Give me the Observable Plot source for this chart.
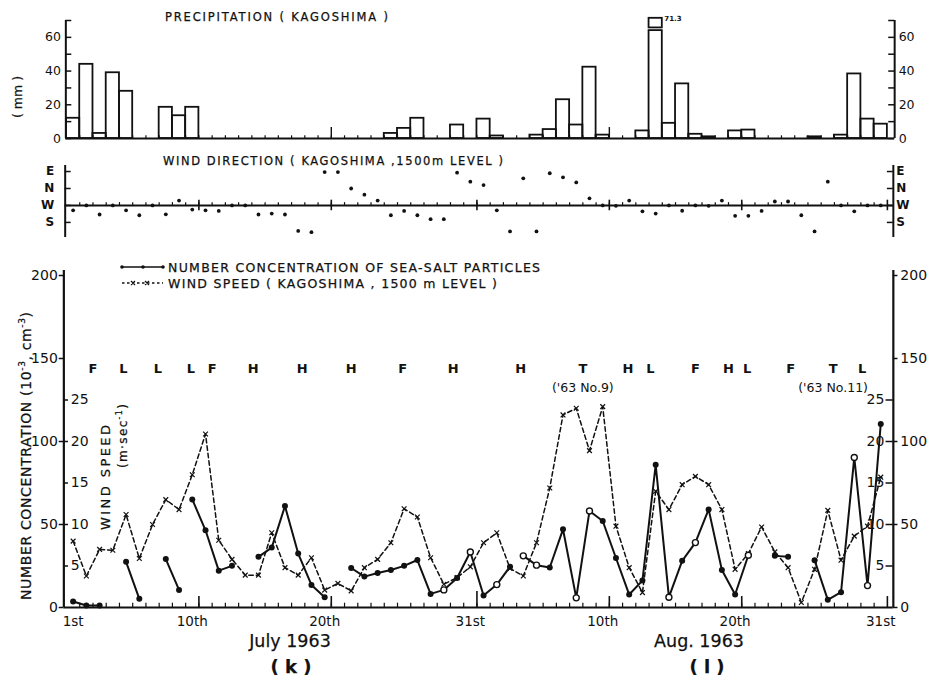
<!DOCTYPE html>
<html>
<head>
<meta charset="utf-8">
<script src="https://cdn.jsdelivr.net/npm/d3@7"></script>
<script src="https://cdn.jsdelivr.net/npm/@observablehq/plot@0.6"></script>
<style>
  html, body { margin: 0; padding: 0; background: #fff; }
  #fig { position: relative; width: 932px; height: 679px; overflow: hidden; background: #fff;
         font-family: "DejaVu Sans", "Liberation Sans", sans-serif; color: #111; }
  #fig > div.panel { position: absolute; left: 0; }
  #labels { position: absolute; left: 0; top: 0; pointer-events: none; }
  #labels text { stroke: #111; stroke-width: 0.25; }
</style>
</head>
<body>
<div id="fig">
  <div class="panel" id="precip" style="top:0px"></div>
  <div class="panel" id="winddir" style="top:150px"></div>
  <div class="panel" id="series" style="top:260px"></div>
  <svg id="labels" width="932" height="679" font-family="DejaVu Sans, Liberation Sans, sans-serif" fill="#111">
    <!-- panel titles -->
    <text x="165" y="21" font-size="11.5" textLength="223" lengthAdjust="spacing">PRECIPITATION  ( KAGOSHIMA )</text>
    <text transform="translate(22,97) rotate(-90)" text-anchor="middle" font-size="12.5">( mm )</text>
    <text x="163" y="165" font-size="11.5" textLength="340" lengthAdjust="spacing">WIND DIRECTION ( KAGOSHIMA ,1500m  LEVEL )</text>

    <!-- key -->
    <line x1="122" y1="267" x2="163" y2="267" stroke="#111" stroke-width="1.6"/>
    <circle cx="122" cy="267" r="1.8"/><circle cx="143" cy="267" r="1.8"/><circle cx="163" cy="267" r="1.8"/>
    <text x="168" y="271.5" font-size="12.5" textLength="372" lengthAdjust="spacing">NUMBER  CONCENTRATION OF SEA-SALT PARTICLES</text>
    <line x1="122" y1="283" x2="163" y2="283" stroke="#111" stroke-width="1.3" stroke-dasharray="2.5,2.5"/>
    <path d="M131,281 l4,4 m0,-4 l-4,4 M145,281 l4,4 m0,-4 l-4,4" stroke="#111" stroke-width="1.2" fill="none"/>
    <text x="168" y="288" font-size="12.5" textLength="329" lengthAdjust="spacing">WIND  SPEED ( KAGOSHIMA , 1500 m   LEVEL )</text>

    <!-- axis titles of the lower panel -->
    <text transform="translate(31,600) rotate(-90)" font-size="14" textLength="288" lengthAdjust="spacing">NUMBER  CONCENTRATION  (10<tspan font-size="9" dy="-6">-3</tspan><tspan dy="6">, cm</tspan><tspan font-size="9" dy="-6">-3</tspan><tspan dy="6">)</tspan></text>
    <text transform="translate(110,530) rotate(-90)" font-size="13" textLength="105" lengthAdjust="spacing">WIND   SPEED</text>
    <text transform="translate(127,468) rotate(-90)" font-size="12" textLength="64" lengthAdjust="spacing">(m·sec<tspan font-size="8" dy="-5">-1</tspan><tspan dy="5">)</tspan></text>

    <!-- month captions -->
    <text x="290" y="647" text-anchor="middle" font-size="17.5">July  1963</text>
    <text x="291" y="673" text-anchor="middle" font-size="18" font-weight="bold">( k )</text>
    <text x="699" y="647" text-anchor="middle" font-size="17.5">Aug.  1963</text>
    <text x="707" y="673" text-anchor="middle" font-size="18" font-weight="bold">( l )</text>
  </svg>
</div>
<script>
// ---------------- data: Kagoshima, 1 July – 31 August 1963 ----------------

// daily precipitation (mm)
const precipJuly = [12, 44, 3, 39, 28, 0, 0, 18.5, 13.5, 18.5, 0, 0, 0, 0, 0, 0, 0, 0, 0, 0,
                    0, 0, 0, 0, 3, 6, 12, 0, 0, 8, 0];
const precipAug  = [11.5, 1.5, 0, 0, 2, 5.3, 23, 8, 42.3, 2, 0, 0, 4.5, 71.3, 9, 32.4, 2.5, 1, 0, 4.5,
                    5, 0, 0, 0, 0, 1, 0, 2, 38.3, 11.5, 8.5];

// wind direction at the 1500 m level (bearing, degrees from north)
const windDirJuly = [244, 270, 222, 270, 244, 218, 270, 223, 296, 248, 244, 241, 270, 270, 222, 227,
                     222, 135, 128, 87, 87, 0, 327, 296, 218, 241, 218, 197, 197, 84, 36];
const windDirAug  = [18, 244, 132, 54, 132, 81, 59, 32, 308, 270, 268, 296, 239, 227, 270, 242,
                     270, 268, 296, 215, 215, 241, 291, 291, 218, 132, 36, 270, 239, 270, 270];

// wind speed at the 1500 m level (m/sec)
const windJuly = [8.0, 3.8, 7.0, 6.9, 11.2, 5.9, 10.0, 13.0, 11.8, 16.0, 20.9, 8.1, 5.8, 3.9, 3.9, 9.0,
                  4.8, 3.9, 6.0, 2.1, 2.9, 2.0, 4.8, 5.8, 7.8, 11.9, 10.9, 6.0, 2.8, 3.6, 4.9];
const windAug  = [7.8, 9.0, 4.7, 3.8, 7.8, 14.4, 23.2, 24.0, 18.9, 24.2, 9.8, 4.8, 1.8, 14.0, 11.8, 14.8,
                  15.8, 14.8, 11.8, 4.6, 6.5, 9.7, 6.7, 4.8, 0.6, 4.6, 11.7, 5.7, 8.6, 9.8, 15.7];

// number concentration of sea-salt particles (10^-3 cm^-3); null = no sample
const concJuly = [3.6, 1.2, 1.2, null, 27.5, 5.2, null, 29.2, 10.6, 65.1, 46.5, 22.2, 25.1, null, 30.5, 36.1,
                  61.1, 32.5, 13.6, 6.2, null, 23.8, 18.6, 20.8, 22.6, 25.1, 28.6, 8.2, 10.6, 17.8, 33.4];
const concAug  = [7.2, 13.8, 24.6, 31.1, 25.5, 24.1, 47.1, 5.8, 58.1, 52.1, 29.8, 7.8, 16.2, 86.0, 6.2, 28.1,
                  39.1, 59.1, 22.6, 7.8, 31.5, null, 31.1, 30.5, null, 28.5, 4.6, 9.2, 90.4, 13.2, 110.6];
// days plotted with an open circle
const openJuly = [29, 31];
const openAug  = [2, 4, 5, 8, 9, 15, 17, 21, 29, 30];
// days on which a new sampling run starts (trace not joined to the previous day)
const runStartsJuly = [10];
const runStartsAug  = [4];

// synoptic situation (F, L, H, T) and where it is written, in days elapsed since 1 July 00h
const weatherCodes = ["F", "L", "L", "L", "F", "H", "H", "H", "F", "H", "H", "T", "H", "L", "F", "H", "L", "F", "T", "L"];
const weatherAt    = [2.0, 4.3, 6.9, 9.4, 11.0, 14.1, 17.8, 21.5, 25.4, 29.2, 34.3, 39.0, 42.4, 44.1, 47.5, 50.0,
                      51.4, 54.7, 57.9, 60.1];
const typhoonNames = ["('63 No.9)", "('63 No.11)"];
const typhoonAt    = [39.0, 57.9];

// axis tick labels
const precipTicks = [0, 20, 40, 60];
const dirLabels = ["E", "N", "W", "S"];
const dirBearings = [90, 0, 270, 180];
const concTicks = [0, 50, 100, 150, 200];
const windTicks = [5, 10, 15, 20, 25];
const dateLabels = ["1st", "10th", "20th", "31st", "10th", "20th", "31st"];
const dateMonths = ["Jul", "Jul", "Jul", "Jul", "Aug", "Aug", "Aug"];
const dateDays   = [1, 10, 20, 31, 10, 20, 31];

// ---------------- derived tables ----------------
const months = [
  {name: "Jul", offset: 0,  precip: precipJuly, dir: windDirJuly, wind: windJuly, conc: concJuly, open: openJuly, runStarts: runStartsJuly},
  {name: "Aug", offset: 31, precip: precipAug,  dir: windDirAug,  wind: windAug,  conc: concAug,  open: openAug,  runStarts: runStartsAug}
];
const monthOffset = Object.fromEntries(months.map(m => [m.name, m.offset]));

const daily = months.flatMap(mo => mo.precip.map((p, i) => ({
  t0: mo.offset + i, t1: mo.offset + i + 1, t: mo.offset + i + 0.5,
  precip: p, dir: mo.dir[i], wind: mo.wind[i], conc: mo.conc[i],
  open: mo.open.includes(i + 1), newRun: mo.runStarts.includes(i + 1)
})));
let run = 0;
for (const r of daily) { if (r.conc == null || r.newRun) run++; r.run = run; }

// compass bearing -> vertical position: E on top, then N, W, S, SE below
const dirPos = b => (b > 90 ? b - 360 : b);
const dirTicks = dirLabels.map((label, i) => ({label, v: dirPos(dirBearings[i])}));

const nDays = daily.length;
const boundaries = d3.range(1, nDays);
const decadeMarks = months.flatMap(mo => [10, 20, mo.precip.length].map(d => mo.offset + d));
const weatherRows = weatherCodes.map((code, i) => ({code, t: weatherAt[i]}));
const typhoonRows = typhoonNames.map((name, i) => ({name, t: typhoonAt[i]}));
const dateRows = dateLabels.map((label, i) => ({label, t: monthOffset[dateMonths[i]] + dateDays[i] - 0.5}));

// wind speed shares the lower panel: 10 m/sec sits at concentration 50
const WIND_TO_CONC = 5;

// ---------------- layout ----------------
const WIDTH = 932, X0 = 66, DAY = 13.24;   // px of 1 July 00h, px per day
const INK = "#111";
const style = {fontFamily: "DejaVu Sans, Liberation Sans, sans-serif", color: INK, background: "transparent", overflow: "visible"};
function frameX(lo, hi) {
  return {marginLeft: X0 + lo * DAY, marginRight: WIDTH - (X0 + hi * DAY), x: {domain: [lo, hi], axis: null}};
}

// ---- precipitation ----
{
  const lo = -0.05, hi = 62.55, TOP = 70, BREAK_LO = 64, BREAK_HI = 65.6;
  const bars = daily.filter(r => r.precip > 0);
  const ticks10 = d3.range(0, TOP + 1, 10);
  const plot = Plot.plot({
    width: WIDTH, height: 150, marginTop: 20, marginBottom: 12, ...frameX(lo, hi),
    y: {domain: [0, TOP], axis: null}, style,
    marks: [
      Plot.rect(bars, {x1: "t0", x2: "t1", y1: 0, y2: r => Math.min(r.precip, BREAK_LO), fill: "none", stroke: INK, strokeWidth: 1.8}),
      Plot.rect(bars.filter(r => r.precip > BREAK_HI), {x1: "t0", x2: "t1", y1: BREAK_HI, y2: "precip", fill: "none", stroke: INK, strokeWidth: 1.8}),
      Plot.text(bars.filter(r => r.precip > TOP), {x: "t1", y: "precip", text: r => r.precip.toFixed(1), textAnchor: "start", dx: 2, fontSize: 7, fontWeight: "bold"}),
      Plot.ruleX(boundaries, {y1: 0, y2: 1.6, stroke: INK, strokeWidth: 1.2}),
      Plot.ruleX([20, 41], {y1: 0, y2: 6.5, stroke: INK, strokeWidth: 1.4}),
      Plot.ruleY([0], {x1: lo, x2: hi, stroke: INK, strokeWidth: 2}),
      Plot.ruleX([lo, hi], {y1: 0, y2: TOP, stroke: INK, strokeWidth: 2}),
      Plot.ruleY(ticks10, {x1: lo, x2: lo + 0.45, stroke: INK, strokeWidth: 1.5}),
      Plot.ruleY(ticks10, {x1: hi - 0.45, x2: hi, stroke: INK, strokeWidth: 1.5}),
      Plot.text(precipTicks, {x: lo, y: d => d, text: d => String(d), textAnchor: "end", dx: -5, fontSize: 12.5, fill: INK}),
      Plot.text(precipTicks, {x: hi, y: d => d, text: d => String(d), textAnchor: "start", dx: 4, fontSize: 12.5, fill: INK})
    ]
  });
  document.getElementById("precip").append(plot);
}

// ---- wind direction ----
{
  const lo = -0.1, hi = 62.45;
  const plot = Plot.plot({
    width: WIDTH, height: 95, marginTop: 15, marginBottom: 8, ...frameX(lo, hi),
    y: {domain: [-260, 122], axis: null}, style,
    marks: [
      Plot.ruleY([dirPos(270)], {x1: lo, x2: hi, stroke: INK, strokeWidth: 2}),
      Plot.ruleX(boundaries, {y1: -90, y2: -75, stroke: INK, strokeWidth: 1.2}),
      Plot.ruleX(decadeMarks, {y1: -118, y2: -62, stroke: INK, strokeWidth: 1.6}),
      Plot.ruleX([lo, hi], {y1: -260, y2: 122, stroke: INK, strokeWidth: 2}),
      Plot.ruleY(dirTicks, {y: "v", x1: lo, x2: lo + 0.45, stroke: INK, strokeWidth: 1.5}),
      Plot.ruleY(dirTicks, {y: "v", x1: hi - 0.45, x2: hi, stroke: INK, strokeWidth: 1.5}),
      Plot.text(dirTicks, {x: lo, y: "v", text: "label", textAnchor: "end", dx: -11, fontSize: 12, fontWeight: "bold", fill: INK}),
      Plot.text(dirTicks, {x: hi, y: "v", text: "label", textAnchor: "start", dx: 3, fontSize: 12, fontWeight: "bold", fill: INK}),
      Plot.dot(daily, {x: "t", y: r => dirPos(r.dir), r: 1.9, fill: INK})
    ]
  });
  document.getElementById("winddir").append(plot);
}

// ---- sea-salt concentration and wind speed ----
{
  const lo = -0.2, hi = 62.45;
  const windY = r => r.wind * WIND_TO_CONC;
  const sampled = daily.filter(r => r.conc != null);
  const plot = Plot.plot({
    width: WIDTH, height: 419, marginTop: 15, marginBottom: 72, ...frameX(lo, hi),
    y: {domain: [0, 200], axis: null}, style,
    marks: [
      // frame and date ticks
      Plot.ruleY([0], {x1: lo, x2: hi, stroke: INK, strokeWidth: 2.2}),
      Plot.ruleX([lo, hi], {y1: 0, y2: 203, stroke: INK, strokeWidth: 2.2}),
      Plot.ruleX(boundaries, {y1: 0, y2: 2.6, stroke: INK, strokeWidth: 1.2}),
      Plot.ruleX(decadeMarks, {y1: 0, y2: d => (d === 31 ? 9.6 : 6.6), stroke: INK, strokeWidth: 1.6}),
      Plot.text(dateRows, {x: "t", y: 0, text: "label", dy: 14, fontSize: 13.5, fill: INK}),

      // concentration axes (outside) and wind-speed axes (inside)
      Plot.ruleY(concTicks, {x1: lo - 0.35, x2: lo, stroke: INK, strokeWidth: 1.5}),
      Plot.ruleY(concTicks, {x1: hi, x2: hi + 0.35, stroke: INK, strokeWidth: 1.5}),
      Plot.text(concTicks, {x: lo, y: d => d, text: d => String(d), textAnchor: "end", dx: -6, fontSize: 14, fill: INK}),
      Plot.text(concTicks, {x: hi, y: d => d, text: d => String(d), textAnchor: "start", dx: 7, fontSize: 14, fill: INK}),
      Plot.ruleY(windTicks, {y: w => w * WIND_TO_CONC, x1: lo, x2: lo + 0.35, stroke: INK, strokeWidth: 1.5}),
      Plot.ruleY(windTicks, {y: w => w * WIND_TO_CONC, x1: hi - 0.55, x2: hi, stroke: INK, strokeWidth: 1.5}),
      Plot.text(windTicks, {x: lo, y: w => w * WIND_TO_CONC, text: w => String(w), textAnchor: "start", dx: 7, fontSize: 14, fill: INK}),
      Plot.text(windTicks, {x: hi, y: w => w * WIND_TO_CONC, text: w => String(w), textAnchor: "end", dx: -9, fontSize: 14, fill: INK}),

      // synoptic situation
      Plot.text(weatherRows, {x: "t", y: 144, text: "code", fontSize: 13, fontWeight: "bold", fill: INK}),
      Plot.text(typhoonRows, {x: "t", y: 132.5, text: "name", fontSize: 12.5, fill: INK}),

      // wind speed
      Plot.line(daily, {x: "t", y: windY, stroke: INK, strokeWidth: 1.5, strokeDasharray: "4.5,3"}),
      Plot.dot(daily, {x: "t", y: windY, symbol: "times", r: 2.3, stroke: INK, strokeWidth: 1.2}),

      // sea-salt particle concentration
      Plot.line(daily, {x: "t", y: "conc", z: "run", stroke: INK, strokeWidth: 2}),
      Plot.dot(sampled.filter(r => !r.open), {x: "t", y: "conc", r: 3, fill: INK}),
      Plot.dot(sampled.filter(r => r.open), {x: "t", y: "conc", r: 3, fill: "white", stroke: INK, strokeWidth: 1.4})
    ]
  });
  document.getElementById("series").append(plot);
}
</script>
</body>
</html>
